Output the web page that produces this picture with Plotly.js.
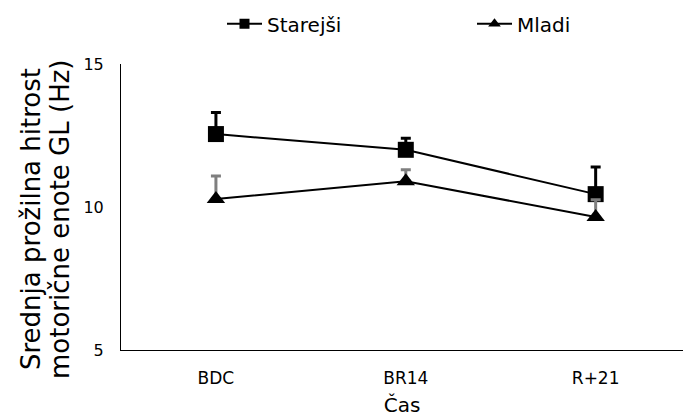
<!DOCTYPE html>
<html>
<head>
<meta charset="utf-8">
<script src="https://cdn.plot.ly/plotly-3.0.1.min.js"></script>
<style>html,body{margin:0;padding:0;background:#fff;}#chart{width:683px;height:419px;}</style>
</head>
<body>
<div id="chart"></div>
<script>
const categories = ["BDC", "BR14", "R+21"];
const starejsi = [12.55, 12.0, 10.45];
const starejsiErr = [0.75, 0.4, 0.95];
const mladi = [10.28, 10.9, 9.65];
const mladiErr = [0.8, 0.4, 0.6];
const seriesNames = ["Starejši", "Mladi"];
const yTicks = [5, 10, 15];
const yTitleLines = ["Srednja prožilna hitrost", "motorične enote GL (Hz)"];
const xTitle = "Čas";

const font = "DejaVu Sans, Verdana, sans-serif";

const traces = [
  {
    x: categories, y: starejsi, name: seriesNames[0], type: "scatter", mode: "lines+markers",
    showlegend: false,
    line: {color: "#000", width: 2},
    marker: {symbol: "square", size: 16, color: "#000"},
    error_y: {type: "data", array: starejsiErr, symmetric: false, arrayminus: [0,0,0], color: "#000", thickness: 3, width: 5}
  },
  {
    x: categories, y: mladi, name: seriesNames[1], type: "scatter", mode: "lines+markers",
    showlegend: false,
    line: {color: "#000", width: 2},
    marker: {symbol: "triangle-up", size: 16, color: "#000"},
    error_y: {type: "data", array: mladiErr, symmetric: false, arrayminus: [0,0,0], color: "#7f7f7f", thickness: 3, width: 5}
  },
  {
    x: [categories[0]], y: [null], name: seriesNames[0], type: "scatter", mode: "lines+markers",
    legend: "legend",
    line: {color: "#000", width: 2}, marker: {symbol: "square", size: 10, color: "#000"}
  },
  {
    x: [categories[0]], y: [null], name: seriesNames[1], type: "scatter", mode: "lines+markers",
    legend: "legend2",
    line: {color: "#000", width: 2}, marker: {symbol: "triangle-up", size: 11, color: "#000"}
  }
];

const legendBase = {
  orientation: "h", xref: "container", yref: "container",
  xanchor: "left", y: 0.99, yanchor: "top", itemwidth: 35,
  font: {family: font, size: 20, color: "#000"}
};

const layout = {
  width: 683, height: 419,
  margin: {l: 121, r: 0, t: 64, b: 69},
  paper_bgcolor: "#fff", plot_bgcolor: "#fff",
  font: {family: font, color: "#000", size: 14},
  showlegend: true,
  legend: Object.assign({}, legendBase, {x: 222 / 683}),
  legend2: Object.assign({}, legendBase, {x: 472 / 683}),
  xaxis: {
    type: "category", range: [-0.5, 2.46],
    showline: true, linecolor: "#000", linewidth: 1,
    ticks: "", showgrid: false, zeroline: false,
    tickfont: {family: font, size: 17, color: "#000"},
    ticklabelstandoff: 13,
    title: {text: xTitle, font: {family: font, size: 20, color: "#000"}, standoff: 10}
  },
  yaxis: {
    range: [5, 15], tickvals: yTicks,
    showline: true, linecolor: "#000", linewidth: 1,
    ticks: "", showgrid: false, zeroline: false,
    tickfont: {family: font, size: 16, color: "#000"},
    ticklabelstandoff: 13
  },
  annotations: [
    {text: yTitleLines[0], xref: "paper", yref: "paper", x: (31 - 121) / 562, y: (350 - 219) / 286,
     xanchor: "center", yanchor: "middle", textangle: -90, showarrow: false,
     font: {family: font, size: 26, color: "#000"}},
    {text: yTitleLines[1], xref: "paper", yref: "paper", x: (60 - 121) / 562, y: (350 - 219) / 286,
     xanchor: "center", yanchor: "middle", textangle: -90, showarrow: false,
     font: {family: font, size: 26, color: "#000"}}
  ]
};

Plotly.newPlot("chart", traces, layout, {displayModeBar: false, staticPlot: true});
</script>
</body>
</html>
